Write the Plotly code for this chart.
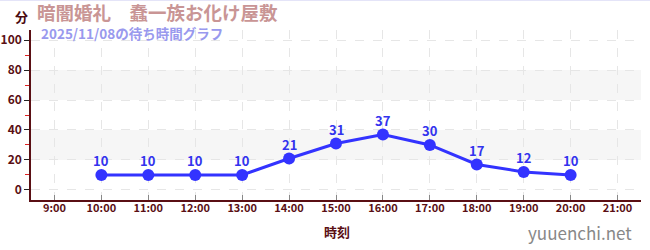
import plotly.graph_objects as go

hours = [10, 11, 12, 13, 14, 15, 16, 17, 18, 19, 20]
waits = [10, 10, 10, 10, 21, 31, 37, 30, 17, 12, 10]
tick_hours = list(range(9, 22))
tick_labels = [f"{h}:00" for h in tick_hours]
y_ticks = [0, 20, 40, 60, 80, 100]
y_minor = [10, 30, 50, 70, 90]
title_text = "暗闇婚礼　蠢一族お化け屋敷"
subtitle_text = "2025/11/08の待ち時間グラフ"
y_unit = "分"
x_title = "時刻"
watermark = "yuuenchi.net"

FONT = "Noto Sans CJK JP"
AX = "#5a0f14"
W, H = 650, 250
L, R, T, B = 31, 9, 30, 50
PW, PH = W - L - R, H - T - B


def px(x, y):
    return (x - L) / PW, 1 - (y - T) / PH


fig = go.Figure()
fig.add_trace(go.Scatter(
    x=hours, y=waits, mode="lines+markers",
    line=dict(color="#3333ff", width=3),
    marker=dict(color="#3333ff", size=12),
    cliponaxis=False, hoverinfo="skip",
))

shapes = []
for lo, hi in [(20, 40), (60, 80)]:
    shapes.append(dict(type="rect", xref="paper", yref="y", x0=0, x1=1, y0=lo, y1=hi,
                       fillcolor="#f6f6f6", line=dict(width=0), layer="below"))
x0p, y0p = px(0, 0.5)
x1p, _ = px(W, 0.5)
shapes.append(dict(type="line", xref="paper", yref="paper", x0=x0p, x1=x1p, y0=y0p, y1=y0p,
                   line=dict(color="#e4e4f8", width=1)))


def ann(text, x, y, size, color, anchor="left", bold=False):
    xp, yp = px(x, y)
    return dict(text=f"<b>{text}</b>" if bold else text, x=xp, y=yp, xref="paper", yref="paper",
                showarrow=False, xanchor=anchor, yanchor="middle",
                font=dict(size=size, color=color, family=FONT))


annotations = [
    dict(text=f"<b>{v}</b>", x=h, y=v, xref="x", yref="y", showarrow=False,
         xanchor="center", yanchor="middle", yshift=14,
         font=dict(size=13, color="#3333ee", family=FONT))
    for h, v in zip(hours, waits)
]
annotations += [
    ann(title_text, 35, 12, 18.5, "#c99595", bold=True),
    ann(y_unit, 13, 16, 13, "#4a0a10", bold=True),
    ann(subtitle_text, 39, 33, 13.5, "#9999ee", bold=True),
    ann(x_title, 337, 231, 13, AX, anchor="center", bold=True),
    ann(watermark, 634, 232, 17, "#888888", anchor="right"),
]

fig.update_layout(
    width=W, height=H,
    margin=dict(l=L, r=R, t=T, b=B, autoexpand=False),
    paper_bgcolor="white", plot_bgcolor="white",
    showlegend=False,
    shapes=shapes,
    font=dict(family=FONT, color=AX),
    xaxis=dict(
        range=[8.5, 21.5], tickmode="array", tickvals=tick_hours, ticktext=tick_labels,
        ticks="inside", ticklen=5, tickcolor="#888888", tickwidth=1,
        tickfont=dict(size=11, color=AX, family=FONT, weight="bold"),
        ticklabelstandoff=-3,
        showline=True, linecolor=AX, linewidth=1.5,
        showgrid=True, gridcolor="#e6e6e6", griddash="dash", gridwidth=1,
        zeroline=False, fixedrange=True, automargin=False,
    ),
    yaxis=dict(
        range=[-6.7, 106.7], tickmode="array", tickvals=y_ticks,
        ticks="outside", ticklen=5, tickcolor="#222222", tickwidth=1,
        tickfont=dict(size=12, color=AX, family=FONT, weight="bold"),
        showline=True, linecolor=AX, linewidth=1.5,
        showgrid=True, gridcolor="#e6e6e6", griddash="dash", gridwidth=1,
        zeroline=False, fixedrange=True, automargin=False,
        minor=dict(tickvals=y_minor, ticks="outside", ticklen=4,
                   tickcolor="#dd2222", showgrid=False),
    ),
    annotations=annotations,
)

fig.write_html("out.html")
